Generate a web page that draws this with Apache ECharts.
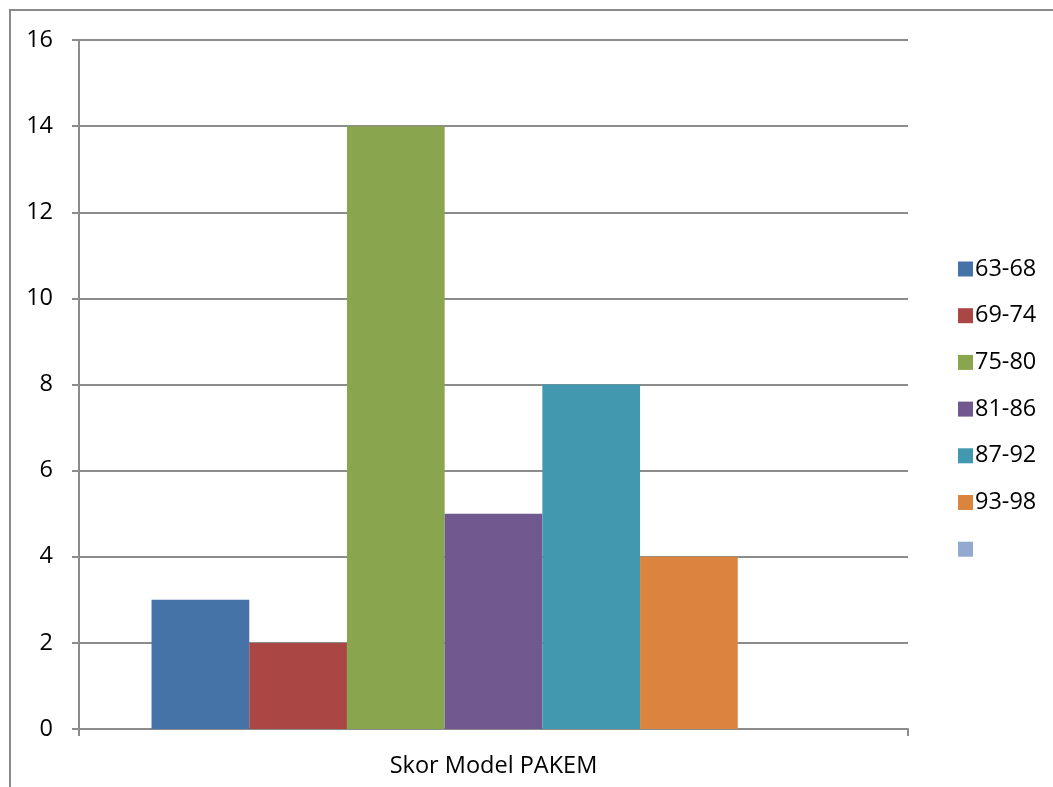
<!DOCTYPE html>
<html lang="id">
<head>
<meta charset="UTF-8">
<title>Skor Model PAKEM</title>
<script src="https://cdn.jsdelivr.net/npm/echarts@6/dist/echarts.min.js"></script>
<style>
  html, body { margin: 0; padding: 0; background: #fff; }
  #chart { width: 1053px; height: 787px; }
</style>
</head>
<body>
<div id="chart"></div>
<script>
// data
var categories = ['Skor Model PAKEM'];
var seriesNames = ['63-68', '69-74', '75-80', '81-86', '87-92', '93-98', ' '];
var seriesValues = [[3], [2], [14], [5], [8], [4], [null]];
var seriesColors = ['#4572A7', '#AA4643', '#89A54E', '#71588F', '#4198AF', '#DB843D', '#93A9CF'];
var yMin = 0, yMax = 16, yStep = 2;

var fontName = '"Open Sans", "Noto Sans", sans-serif';
var fontSize = 23.5;
var gridColor = '#8c8c8c';

var chart = echarts.init(document.getElementById('chart'), null, { renderer: 'canvas' });

var series = [];
for (var i = 0; i < seriesNames.length; i++) {
  series.push({
    name: seriesNames[i],
    type: 'bar',
    data: seriesValues[i],
    barWidth: 97.7,
    barGap: 0,
    itemStyle: { color: seriesColors[i] },
    emphasis: { disabled: true }
  });
}

var option = {
  backgroundColor: '#fff',
  animation: false,
  textStyle: { fontFamily: fontName },
  grid: { left: 79, top: 40, right: 145, bottom: 58 },
  legend: {
    orient: 'vertical',
    left: 953,
    top: 252,
    itemWidth: 15,
    itemHeight: 15,
    itemGap: 22.7,
    icon: 'rect',
    data: seriesNames,
    selectedMode: false,
    textStyle: { color: '#000', fontSize: fontSize, fontFamily: fontName, lineHeight: 24, padding: [0, 0, 0, -3] }
  },
  xAxis: {
    type: 'category',
    data: categories,
    axisLine: { lineStyle: { color: gridColor, width: 2 } },
    axisTick: { show: true, length: 7, lineStyle: { color: gridColor, width: 2 } },
    axisLabel: { color: '#000', fontSize: fontSize, margin: 25 }
  },
  yAxis: {
    type: 'value',
    min: yMin,
    max: yMax,
    interval: yStep,
    axisLine: { show: true, lineStyle: { color: gridColor, width: 2 } },
    axisTick: { show: true, length: 7, lineStyle: { color: gridColor, width: 2 } },
    axisLabel: { color: '#000', fontSize: fontSize, margin: 26 },
    splitLine: { show: true, lineStyle: { color: gridColor, width: 2 } }
  },
  graphic: [{
    type: 'rect',
    shape: { x: 10, y: 10, width: 1100, height: 820 },
    style: { fill: null, stroke: '#8a8a8a', lineWidth: 2 },
    silent: true,
    z: 100
  }],
  series: series
};

chart.setOption(option);
</script>
</body>
</html>
